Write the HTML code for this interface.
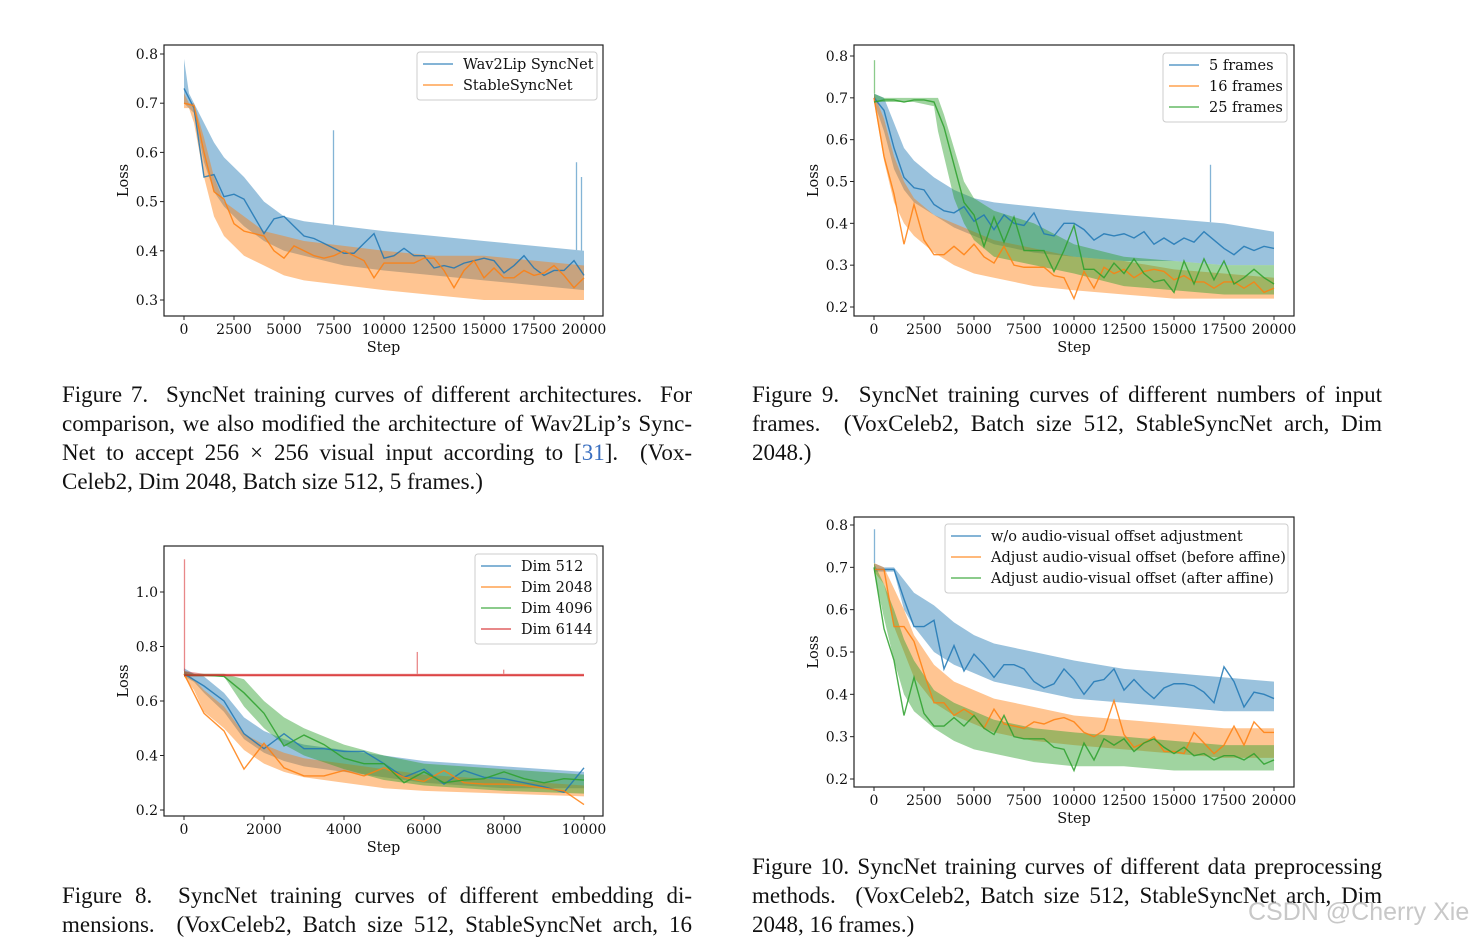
<!DOCTYPE html>
<html><head><meta charset="utf-8">
<style>
body{margin:0;background:#fff;width:1484px;height:940px;overflow:hidden;position:relative;font-family:"Liberation Serif",serif}
svg{position:absolute;left:0;top:0}
.cap{position:absolute;font-family:"Liberation Serif",serif;font-size:23px;color:#111;white-space:nowrap}
.cap div{height:29px;line-height:29px;text-align:justify;text-align-last:justify}
.cap div.last{text-align-last:left}
.wm{position:absolute;left:1248px;top:898px;font-family:"Liberation Sans",sans-serif;font-size:25px;color:#c8c8c8}
</style></head><body>
<svg id="svg" width="1484" height="940"></svg>

<div class="cap" style="left:62px;top:380px;width:630px">
<div>Figure 7.&nbsp; SyncNet training curves of different architectures.&nbsp; For</div>
<div>comparison, we also modified the architecture of Wav2Lip’s Sync-</div>
<div>Net to accept 256 × 256 visual input according to [<span style="color:#3a6fc0">31</span>].&nbsp; (Vox-</div>
<div class="last">Celeb2, Dim 2048, Batch size 512, 5 frames.)</div>
</div>
<div class="cap" style="left:752px;top:380px;width:630px">
<div>Figure 9.&nbsp; SyncNet training curves of different numbers of input</div>
<div>frames.&nbsp; (VoxCeleb2, Batch size 512, StableSyncNet arch, Dim</div>
<div class="last">2048.)</div>
</div>
<div class="cap" style="left:62px;top:881px;width:630px">
<div>Figure 8.&nbsp; SyncNet training curves of different embedding di-</div>
<div>mensions.&nbsp; (VoxCeleb2, Batch size 512, StableSyncNet arch, 16</div>
</div>
<div class="cap" style="left:752px;top:852px;width:630px">
<div>Figure 10. SyncNet training curves of different data preprocessing</div>
<div>methods.&nbsp; (VoxCeleb2, Batch size 512, StableSyncNet arch, Dim</div>
<div class="last">2048, 16 frames.)</div>
</div>
<div class="wm">CSDN @Cherry Xie</div>

<script>
// ---------- Figure 7 data ----------
const f7BandX=[0,250,500,1000,1500,2000,3000,4000,5000,6000,8000,10000,12500,15000,17500,20000];
const f7BlueUp=[0.79,0.72,0.70,0.66,0.62,0.59,0.55,0.50,0.47,0.46,0.45,0.44,0.43,0.42,0.41,0.40];
const f7BlueLo=[0.70,0.69,0.68,0.58,0.52,0.49,0.45,0.42,0.40,0.39,0.37,0.36,0.35,0.34,0.33,0.32];
const f7OrangeUp=[0.72,0.70,0.70,0.63,0.55,0.50,0.47,0.44,0.43,0.42,0.41,0.40,0.39,0.39,0.38,0.37];
const f7OrangeLo=[0.69,0.69,0.66,0.55,0.47,0.43,0.39,0.37,0.35,0.34,0.33,0.32,0.31,0.30,0.30,0.30];
const f7Blue=[0.73,0.69,0.55,0.555,0.51,0.515,0.505,0.47,0.435,0.465,0.47,0.45,0.43,0.425,0.415,0.405,0.395,0.395,0.415,0.435,0.385,0.39,0.405,0.39,0.39,0.365,0.37,0.365,0.375,0.38,0.385,0.38,0.355,0.37,0.39,0.365,0.35,0.36,0.36,0.38,0.35];
const f7Orange=[0.70,0.695,0.60,0.52,0.505,0.455,0.44,0.435,0.43,0.40,0.385,0.41,0.40,0.39,0.385,0.39,0.40,0.39,0.38,0.345,0.375,0.375,0.375,0.375,0.385,0.385,0.36,0.325,0.36,0.38,0.345,0.365,0.345,0.345,0.36,0.35,0.355,0.37,0.35,0.325,0.345];
const f7SpikeX=[7450,19600,19850];
const f7SpikeY=[0.645,0.58,0.55];
// ---------- Figure 9 data ----------
const f9BandX=[0,500,1000,1500,2000,3000,4000,5000,6000,8000,10000,12500,15000,17500,20000];
const f9BlueUp=[0.71,0.70,0.64,0.58,0.55,0.51,0.48,0.46,0.45,0.44,0.43,0.42,0.41,0.40,0.38];
const f9BlueLo=[0.69,0.62,0.53,0.48,0.45,0.42,0.39,0.37,0.35,0.33,0.32,0.31,0.31,0.30,0.30];
const f9OrangeUp=[0.71,0.65,0.56,0.50,0.46,0.42,0.40,0.38,0.36,0.34,0.32,0.31,0.29,0.28,0.27];
const f9OrangeLo=[0.69,0.55,0.45,0.40,0.37,0.33,0.30,0.28,0.27,0.25,0.24,0.23,0.22,0.22,0.22];
const f9GreenBandX=[0,500,1000,2000,3000,3200,3500,4000,4500,5000,6000,8000,10000,12500,15000,17500,20000];
const f9GreenUp=[0.71,0.70,0.70,0.70,0.70,0.70,0.66,0.58,0.50,0.46,0.43,0.40,0.35,0.32,0.31,0.30,0.30];
const f9GreenLo=[0.69,0.69,0.69,0.69,0.68,0.62,0.56,0.46,0.40,0.36,0.32,0.30,0.28,0.25,0.24,0.23,0.23];
const f9Blue=[0.70,0.67,0.58,0.51,0.485,0.48,0.445,0.43,0.425,0.44,0.405,0.42,0.385,0.42,0.40,0.395,0.425,0.375,0.37,0.40,0.40,0.385,0.36,0.375,0.37,0.375,0.365,0.38,0.35,0.365,0.35,0.365,0.355,0.38,0.36,0.34,0.325,0.345,0.335,0.345,0.34];
const f9Orange=[0.70,0.56,0.47,0.35,0.445,0.36,0.325,0.325,0.345,0.325,0.35,0.32,0.305,0.345,0.30,0.295,0.295,0.295,0.275,0.27,0.22,0.285,0.245,0.295,0.28,0.29,0.27,0.285,0.29,0.285,0.265,0.275,0.26,0.26,0.245,0.26,0.26,0.245,0.26,0.235,0.245];
const f9Green=[0.69,0.695,0.695,0.69,0.695,0.695,0.69,0.63,0.54,0.45,0.42,0.345,0.415,0.355,0.415,0.335,0.335,0.335,0.285,0.335,0.395,0.29,0.29,0.27,0.305,0.28,0.315,0.28,0.26,0.265,0.235,0.31,0.255,0.315,0.265,0.31,0.255,0.27,0.29,0.27,0.255];
const f9SpikeX=[0,16800];
const f9SpikeY=[0.79,0.54];
// ---------- Figure 8 data ----------
const f8BandX=[0,250,500,1000,1500,2000,2500,3000,4000,5000,6000,8000,10000];
const f8BlueUp=[0.72,0.70,0.69,0.63,0.54,0.49,0.46,0.44,0.42,0.40,0.38,0.36,0.34];
const f8BlueLo=[0.69,0.67,0.63,0.56,0.46,0.41,0.38,0.36,0.34,0.32,0.30,0.28,0.28];
const f8OrangeUp=[0.71,0.68,0.64,0.58,0.48,0.44,0.41,0.39,0.37,0.35,0.33,0.31,0.29];
const f8OrangeLo=[0.69,0.64,0.56,0.50,0.42,0.37,0.34,0.32,0.30,0.28,0.27,0.26,0.25];
const f8GreenUp=[0.71,0.70,0.70,0.70,0.68,0.60,0.54,0.50,0.44,0.40,0.37,0.35,0.33];
const f8GreenLo=[0.69,0.69,0.69,0.69,0.58,0.50,0.44,0.40,0.35,0.31,0.29,0.27,0.26];
const f8RedUp=[0.71,0.705,0.70,0.70,0.70,0.70,0.70,0.70,0.70,0.70,0.70,0.70,0.70];
const f8RedLo=[0.69,0.69,0.69,0.69,0.69,0.69,0.69,0.69,0.69,0.69,0.69,0.69,0.69];
const f8Blue=[0.70,0.655,0.60,0.48,0.425,0.48,0.425,0.425,0.415,0.415,0.37,0.32,0.35,0.295,0.345,0.32,0.315,0.30,0.285,0.265,0.355];
const f8Orange=[0.70,0.555,0.49,0.35,0.445,0.355,0.325,0.325,0.345,0.325,0.355,0.32,0.305,0.345,0.30,0.295,0.295,0.29,0.28,0.27,0.22];
const f8Green=[0.695,0.695,0.69,0.63,0.555,0.435,0.475,0.44,0.39,0.37,0.37,0.30,0.34,0.30,0.31,0.315,0.34,0.315,0.30,0.315,0.31];
const f8Red=[0.695,0.695,0.695,0.695,0.695,0.695,0.695,0.695,0.695,0.695,0.695,0.695,0.695,0.695,0.695,0.695,0.695,0.695,0.695,0.695,0.695];
const f8SpikeX=[0,5820,7980];
const f8SpikeY=[1.12,0.78,0.715];
// ---------- Figure 10 data ----------
const f10BandX=[0,500,1000,1500,2000,3000,4000,5000,6000,8000,10000,12500,15000,17500,20000];
const f10BlueUp=[0.71,0.70,0.70,0.67,0.64,0.61,0.57,0.54,0.52,0.50,0.48,0.46,0.45,0.44,0.43];
const f10BlueLo=[0.69,0.69,0.69,0.60,0.56,0.50,0.47,0.45,0.43,0.41,0.39,0.38,0.37,0.36,0.36];
const f10OrangeUp=[0.71,0.70,0.65,0.60,0.54,0.47,0.43,0.41,0.39,0.37,0.35,0.34,0.33,0.32,0.32];
const f10OrangeLo=[0.69,0.66,0.56,0.50,0.44,0.38,0.35,0.33,0.31,0.29,0.28,0.27,0.26,0.25,0.25];
const f10GreenUp=[0.71,0.66,0.60,0.53,0.48,0.41,0.38,0.36,0.34,0.32,0.31,0.30,0.29,0.28,0.28];
const f10GreenLo=[0.69,0.58,0.48,0.40,0.36,0.32,0.29,0.27,0.26,0.24,0.23,0.23,0.22,0.22,0.22];
const f10Blue=[0.695,0.695,0.695,0.625,0.56,0.56,0.575,0.46,0.515,0.455,0.495,0.47,0.44,0.47,0.47,0.46,0.43,0.415,0.425,0.46,0.435,0.40,0.43,0.435,0.46,0.41,0.435,0.41,0.39,0.415,0.425,0.425,0.42,0.405,0.38,0.465,0.43,0.37,0.405,0.40,0.39];
const f10Orange=[0.695,0.695,0.56,0.56,0.525,0.45,0.38,0.38,0.35,0.365,0.35,0.32,0.365,0.33,0.325,0.32,0.335,0.33,0.34,0.345,0.335,0.31,0.30,0.315,0.385,0.305,0.275,0.285,0.30,0.265,0.265,0.26,0.31,0.285,0.26,0.28,0.325,0.28,0.335,0.31,0.31];
const f10Green=[0.70,0.555,0.48,0.35,0.44,0.355,0.325,0.325,0.345,0.325,0.35,0.32,0.305,0.35,0.30,0.295,0.295,0.295,0.275,0.27,0.22,0.285,0.245,0.295,0.28,0.295,0.265,0.285,0.295,0.275,0.26,0.275,0.255,0.26,0.245,0.255,0.255,0.245,0.26,0.235,0.245];
const f10SpikeX=[0];
const f10SpikeY=[0.79];

const yTicks7=[0.3,0.4,0.5,0.6,0.7,0.8];
const yTicks9=[0.2,0.3,0.4,0.5,0.6,0.7,0.8];
const yTicks8=[0.2,0.4,0.6,0.8,1.0];
const xTicks20k=[0,2500,5000,7500,10000,12500,15000,17500,20000];
const xTicks10k=[0,2000,4000,6000,8000,10000];

const C={blue:'#1f77b4',orange:'#ff7f0e',green:'#2ca02c',red:'#d62728'};
const NS='http://www.w3.org/2000/svg';
const svg=document.getElementById('svg');
function mk(tag,attrs,parent){const e=document.createElementNS(NS,tag);for(const k in attrs)e.setAttribute(k,attrs[k]);(parent||svg).appendChild(e);return e;}
const FONT='"DejaVu Serif", serif';
function interp(xs,ys,x){
  for(let i=0;i<xs.length-1;i++){if(x<=xs[i+1]){const t=(x-xs[i])/(xs[i+1]-xs[i]);return ys[i]+t*(ys[i+1]-ys[i]);}}
  return ys[ys.length-1];
}

function chart(cfg){
  const g=mk('g',{});
  
  
  const sx=v=>cfg.x0+(v-0)/cfg.xmax*(cfg.x1-cfg.x0);
  const sy=v=>cfg.yA+(v-cfg.vA)/(cfg.vB-cfg.vA)*(cfg.yB-cfg.yA);
  const clip='clip-'+cfg.name;
  const cp=mk('clipPath',{id:clip},g);mk('rect',{x:cfg.L,y:cfg.T,width:cfg.R-cfg.L,height:cfg.B-cfg.T},cp);
  const pg=mk('g',{'clip-path':'url(#'+clip+')'},g);
  cfg.series.forEach(s=>{
    const band=mk('polygon',{fill:C[s.color],'fill-opacity':0.45,stroke:'none'},pg);
    let pts=s.bx.map((x,i)=>sx(x)+','+sy(s.up[i]));
    pts=pts.concat(s.bx.map((x,i)=>sx(x)+','+sy(s.lo[i])).reverse());
    band.setAttribute('points',pts.join(' '));
    
    
    (s.sx||[]).forEach((x,i)=>{
      const base=interp(s.bx,s.up,x);
      const sp=mk('line',{x1:sx(x)+0.5,x2:sx(x)+0.5,y1:sy(base),y2:sy(s.sy[i]),stroke:C[s.color],'stroke-opacity':0.55,'stroke-width':1.3},pg);
      
      
    });
  });
  cfg.series.forEach(s=>{
    const step=cfg.xmax/(s.line.length-1);
    const pl=mk('polyline',{fill:'none',stroke:C[s.color],'stroke-width':1.4,'stroke-opacity':0.85},pg);
    pl.setAttribute('points',s.line.map((v,i)=>sx(i*step)+','+sy(v)).join(' '));
    
    
  });
  const fr=mk('rect',{x:cfg.L,y:cfg.T,width:cfg.R-cfg.L,height:cfg.B-cfg.T,fill:'none',stroke:'#222','stroke-width':1.2},g);
  
  
  cfg.yt.forEach(v=>{
    mk('line',{x1:cfg.L-4,x2:cfg.L,y1:sy(v),y2:sy(v),stroke:'#222'},g);
    const t=mk('text',{x:cfg.L-6,y:sy(v)+5,'text-anchor':'end','font-family':FONT,'font-size':14,fill:'#111'},g);
    t.textContent=v.toFixed(1);
    
    
  });
  cfg.xt.forEach(v=>{
    mk('line',{x1:sx(v),x2:sx(v),y1:cfg.B,y2:cfg.B+4,stroke:'#222'},g);
    const t=mk('text',{x:sx(v),y:cfg.B+18,'text-anchor':'middle','font-family':FONT,'font-size':14,fill:'#111'},g);
    t.textContent=String(v);
    
    
  });
  const xl=mk('text',{x:(cfg.L+cfg.R)/2,y:cfg.B+36,'text-anchor':'middle','font-family':FONT,'font-size':14.5,fill:'#111'},g);
  xl.textContent='Step';
  
  
  const yl=mk('text',{x:0,y:0,'text-anchor':'middle','font-family':FONT,'font-size':14.5,fill:'#111',transform:`translate(${cfg.L-36},${(cfg.T+cfg.B)/2}) rotate(-90)`},g);
  yl.textContent='Loss';
  
  
  const lg=cfg.legend;
  const lr=mk('rect',{x:lg.x,y:lg.y,width:lg.w,height:6+cfg.series.length*21,rx:3,fill:'#fff','fill-opacity':0.85,stroke:'#ccc'},g);
  
  
  cfg.series.forEach((s,i)=>{
    const yy=lg.y+12+i*21;
    const ln=mk('line',{x1:lg.x+6,x2:lg.x+36,y1:yy,y2:yy,stroke:C[s.color],'stroke-opacity':0.55,'stroke-width':2},g);
    
    
    const t=mk('text',{x:lg.x+46,y:yy+5,'font-family':FONT,'font-size':14.5,fill:'#111'},g);
    t.textContent=s.label;
    
    
  });
}

chart({name:'figure-7-chart',L:164,R:603,T:45,B:316,x0:184,x1:584,xmax:20000,yA:54,vA:0.8,yB:300,vB:0.3,yt:yTicks7,xt:xTicks20k,
  legend:{x:417,y:52,w:180},
  series:[
    {id:'wav2lip',color:'blue',label:'Wav2Lip SyncNet',bx:f7BandX,up:f7BlueUp,lo:f7BlueLo,line:f7Blue,sx:f7SpikeX,sy:f7SpikeY},
    {id:'stablesyncnet',color:'orange',label:'StableSyncNet',bx:f7BandX,up:f7OrangeUp,lo:f7OrangeLo,line:f7Orange}]});
chart({name:'figure-9-chart',L:854,R:1294,T:45,B:316,x0:874,x1:1274,xmax:20000,yA:56,vA:0.8,yB:307,vB:0.2,yt:yTicks9,xt:xTicks20k,
  legend:{x:1163,y:53,w:124},
  series:[
    {id:'5-frames',color:'blue',label:'5 frames',bx:f9BandX,up:f9BlueUp,lo:f9BlueLo,line:f9Blue,sx:f9SpikeX.slice(1),sy:f9SpikeY.slice(1)},
    {id:'16-frames',color:'orange',label:'16 frames',bx:f9BandX,up:f9OrangeUp,lo:f9OrangeLo,line:f9Orange},
    {id:'25-frames',color:'green',label:'25 frames',bx:f9GreenBandX,up:f9GreenUp,lo:f9GreenLo,line:f9Green,sx:f9SpikeX.slice(0,1),sy:f9SpikeY.slice(0,1)}]});
chart({name:'figure-8-chart',L:164,R:603,T:546,B:816,x0:184,x1:584,xmax:10000,yA:592,vA:1.0,yB:810,vB:0.2,yt:yTicks8,xt:xTicks10k,
  legend:{x:475,y:554,w:122},
  series:[
    {id:'dim-512',color:'blue',label:'Dim 512',bx:f8BandX,up:f8BlueUp,lo:f8BlueLo,line:f8Blue},
    {id:'dim-2048',color:'orange',label:'Dim 2048',bx:f8BandX,up:f8OrangeUp,lo:f8OrangeLo,line:f8Orange},
    {id:'dim-4096',color:'green',label:'Dim 4096',bx:f8BandX,up:f8GreenUp,lo:f8GreenLo,line:f8Green},
    {id:'dim-6144',color:'red',label:'Dim 6144',bx:f8BandX,up:f8RedUp,lo:f8RedLo,line:f8Red,sx:f8SpikeX,sy:f8SpikeY}]});
chart({name:'figure-10-chart',L:854,R:1294,T:517,B:787,x0:874,x1:1274,xmax:20000,yA:525,vA:0.8,yB:779,vB:0.2,yt:yTicks9,xt:xTicks20k,
  legend:{x:945,y:524,w:343},
  series:[
    {id:'no-offset-adjust',color:'blue',label:'w/o audio-visual offset adjustment',bx:f10BandX,up:f10BlueUp,lo:f10BlueLo,line:f10Blue,sx:f10SpikeX,sy:f10SpikeY},
    {id:'offset-before-affine',color:'orange',label:'Adjust audio-visual offset (before affine)',bx:f10BandX,up:f10OrangeUp,lo:f10OrangeLo,line:f10Orange},
    {id:'offset-after-affine',color:'green',label:'Adjust audio-visual offset (after affine)',bx:f10BandX,up:f10GreenUp,lo:f10GreenLo,line:f10Green}]});
</script>
</body></html>
